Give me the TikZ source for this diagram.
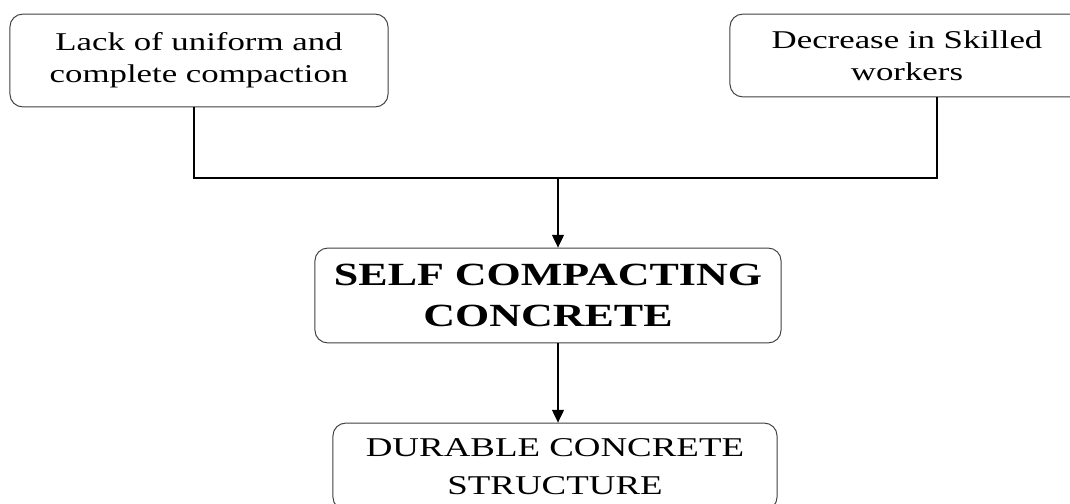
\documentclass[tikz,border=0pt]{standalone}
\usepackage{fontspec}
\setmainfont[FakeStretch=1.36]{Liberation Serif}
\usetikzlibrary{arrows.meta}

\tikzset{
  causebox/.style={draw=black!75, line width=0.7pt, rounded corners=0.32cm, fill=white,
    align=center, font=\fontsize{18.2}{23}\selectfont, inner sep=0pt},
  flowline/.style={line width=1pt, black},
  flowarrow/.style={flowline, -{Triangle[length=0.32cm,width=0.3cm]}}
}

\begin{document}
\begin{tikzpicture}[x=0.025cm, y=-0.025cm]

	\useasboundingbox (0,0) rectangle (1070,504);
	\clip (0,0) rectangle (1070,504);

	% draw boxes

	\node[causebox, minimum width=9.45cm, minimum height=2.32cm] (lack) at (199,60.5)
		{Lack of uniform and\\complete compaction};
	\node[causebox, minimum width=8.85cm, minimum height=2.07cm] (skilled) at (907,55.5)
		{Decrease in Skilled\\workers};
	\node[causebox, minimum width=11.65cm, minimum height=2.37cm,
		font=\fontsize{23}{29.8}\selectfont\bfseries] (scc) at (548,295.5)
		{SELF COMPACTING\\[-0.5pt]CONCRETE};
	\node[causebox, minimum width=11.1cm, minimum height=2.17cm,
		font=\fontsize{19.3}{27}\selectfont] (durable) at (555,466.5)
		{DURABLE CONCRETE\\STRUCTURE};

	% join the two causes

	\coordinate (ljoin) at (194,178);
	\coordinate (rjoin) at (937,178);
	\coordinate (mid) at (558,178);
	\draw[flowline] (lack.south -| ljoin) -- (ljoin) -- (rjoin) -- (skilled.south -| rjoin);

	% arrows down

	\draw[flowarrow] (mid) -- (mid |- scc.north);
	\draw[flowarrow] (scc.south -| mid) -- (durable.north -| mid);

\end{tikzpicture}
\end{document}
